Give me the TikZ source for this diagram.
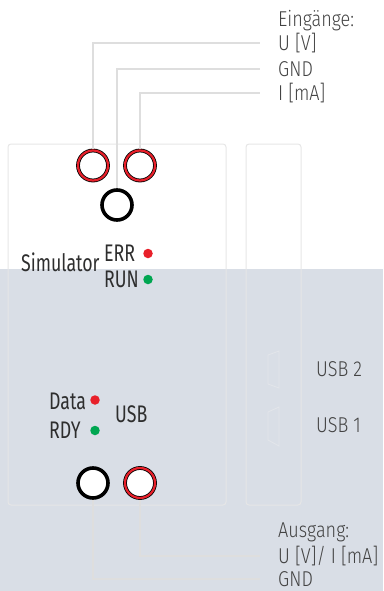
\documentclass[tikz,border=0pt]{standalone}
\usepackage{fontspec}
\setmainfont[FakeStretch=0.82]{Fira Sans}
\newfontfamily\sidefont[FakeStretch=0.84]{Fira Sans Light}
\newfontfamily\panelfont[FakeStretch=0.74]{Fira Sans}
\usetikzlibrary{positioning}
\definecolor{panelGrey}{HTML}{D9DEE6}
\definecolor{wireGrey}{HTML}{DEDEDE}
\definecolor{boxGrey}{HTML}{E6E6E6}
\definecolor{portGrey}{HTML}{E2E5EA}
\definecolor{ledRed}{HTML}{E8202A}
\definecolor{ledGreen}{HTML}{00A651}
\definecolor{textGrey}{HTML}{2E2E2E}
\tikzset{
  wire/.style={draw=wireGrey, line width=1.4pt},
  module/.style={draw=boxGrey, line width=1pt, rounded corners=3pt},
  port/.style={draw=portGrey, line width=0.9pt},
  jackRed/.style={circle, minimum size=30pt, inner sep=0pt, outer sep=2pt, fill=white,
    draw=black, line width=0.8pt, double=ledRed, double distance=2.2pt},
  jackBlack/.style={circle, minimum size=30pt, inner sep=0pt, fill=white,
    draw=black, line width=3.6pt},
  led/.style={circle, minimum size=9.5pt, inner sep=0pt},
  sideLbl/.style={anchor=west, inner sep=0pt, text=textGrey!90, text height=14.5pt,
    text depth=0pt, font=\sidefont\fontsize{21.5}{21.5}\selectfont},
  panelLbl/.style={anchor=west, inner sep=0pt, text=textGrey, text height=16.5pt,
    text depth=0pt, font=\panelfont\fontsize{24}{24}\selectfont},
}

\begin{document}
\begin{tikzpicture}[x=1pt, y=-1pt, node distance=18pt]
\useasboundingbox (0,0) rectangle (383,591);
\fill[panelGrey] (0,269) rectangle (383,591);
% housing
\draw[module] (8,144) rectangle (226,505);
\draw[module] (246,144) rectangle (301,505);
% usb ports
\draw[port] (268,355) -- (279,351) -- (279,388) -- (268,384) -- cycle;
\draw[port] (268,412) -- (279,407) -- (279,446) -- (268,440) -- cycle;
% jacks
\node[jackRed] (jkU) at (93,165.5) {};
\node[jackRed] (jkI) at (140,165.5) {};
\node[jackBlack] (jkGnd) at (117,205) {};
\node[jackBlack] (jkOutGnd) at (93,483) {};
\node[jackRed] (jkOut) at (140,483) {};
% wires
\coordinate (endU) at (260,43);
\coordinate (endGnd) at (260,69);
\coordinate (endI) at (260,93);
\coordinate (endOut) at (260,556);
\coordinate (endOutGnd) at (260,579);
\draw[wire] (jkU.north) |- (endU);
\draw[wire] (jkGnd.north) |- (endGnd);
\draw[wire] (jkI.north) |- (endI);
\draw[wire] (jkOut.south) |- (endOut);
\draw[wire] (jkOutGnd.south) |- (endOutGnd);
% labels
\node[sideLbl] (lblIn) at (278,19) {Eingänge:};
\node[sideLbl, right=of endU] (lblU) {U [V]};
\node[sideLbl, right=of endGnd] (lblGnd) {GND};
\node[sideLbl, right=of endI] (lblI) {I [mA]};
\node[sideLbl] (lblOut) at (278,530.5) {Ausgang:};
\node[sideLbl, right=of endOut] (lblOutUI) {U [V]/ I [mA]};
\node[sideLbl, right=of endOutGnd] (lblOutGnd) {GND};
\node[sideLbl] (lblUsbTwo) at (316,369.5) {USB 2};
\node[sideLbl] (lblUsbOne) at (316,425.5) {USB 1};
% front panel
\node[panelLbl] (lblSim) at (21,263) {Simulator};
\node[panelLbl] (lblErr) at (104,253.5) {ERR};
\node[panelLbl] (lblRun) at (104,279) {RUN};
\node[led, fill=ledRed] (ledErr) at (148,253.5) {};
\node[led, fill=ledGreen] (ledRun) at (148,279.5) {};
\node[panelLbl] (lblData) at (49,401) {Data};
\node[panelLbl] (lblRdy) at (49,430.5) {RDY};
\node[led, fill=ledRed] (ledData) at (95,400) {};
\node[led, fill=ledGreen] (ledRdy) at (95,430.5) {};
\node[panelLbl] (lblUsb) at (115,414.5) {USB};
\end{tikzpicture}
\end{document}
